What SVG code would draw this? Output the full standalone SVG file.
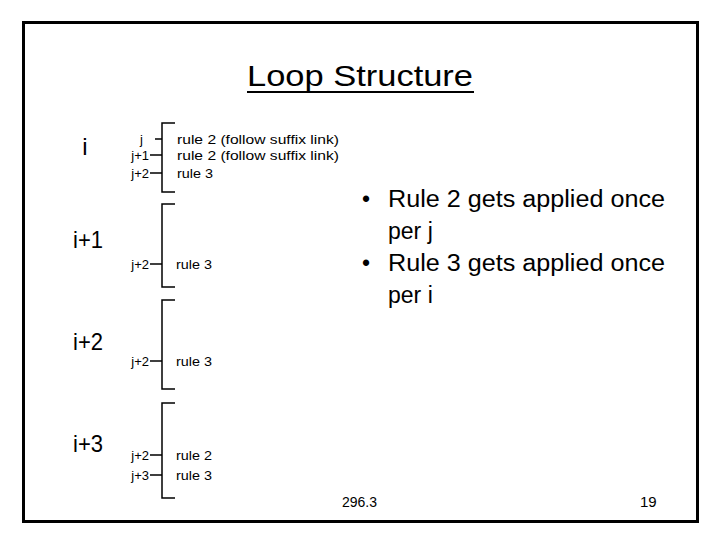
<svg xmlns="http://www.w3.org/2000/svg" width="720" height="540" viewBox="0 0 720 540">
<style>
.t{font-family:"Liberation Sans",Arial,sans-serif;fill:#000}
.s{font-size:13px}
.b{font-size:23px}
.l{font-size:24px}
.br{fill:none;stroke:#000;stroke-width:1.5}
</style>
<rect x="0" y="0" width="720" height="540" fill="#fff"/>
<rect x="23.5" y="22.5" width="674" height="499" fill="none" stroke="#000" stroke-width="3"/>
<g id="title">
<text class="t" x="247" y="86" font-size="29" textLength="226" lengthAdjust="spacingAndGlyphs">Loop Structure</text>
<line x1="247" y1="92" x2="474" y2="92" stroke="#000" stroke-width="2"/>
</g>
<g id="i-labels">
<text class="t l" x="85" y="155" text-anchor="middle">i</text>
<text class="t l" x="73" y="248" textLength="30" lengthAdjust="spacingAndGlyphs">i+1</text>
<text class="t l" x="73" y="350" textLength="30" lengthAdjust="spacingAndGlyphs">i+2</text>
<text class="t l" x="73" y="452" textLength="30" lengthAdjust="spacingAndGlyphs">i+3</text>
</g>
<g id="connectors">
<path class="br" d="M175,123 H162 V192 H175"/>
<path class="br" d="M155,139 H162 M150,155 H162 M150,173 H162"/>
<path class="br" d="M175,204 H162 V287 H175"/>
<path class="br" d="M150,264 H162"/>
<path class="br" d="M175,300 H162 V389 H175"/>
<path class="br" d="M150,361 H162"/>
<path class="br" d="M175,403 H162 V498 H175"/>
<path class="br" d="M150,455 H162 M150,475 H162"/>
</g>
<g id="group-i">
<text class="t s" x="143" y="144" text-anchor="end">j</text>
<text class="t s" x="149" y="160" text-anchor="end">j+1</text>
<text class="t s" x="149" y="178" text-anchor="end">j+2</text>
<text class="t s" x="177" y="144" textLength="162" lengthAdjust="spacingAndGlyphs">rule 2 (follow suffix link)</text>
<text class="t s" x="177" y="160" textLength="162" lengthAdjust="spacingAndGlyphs">rule 2 (follow suffix link)</text>
<text class="t s" x="177" y="178" textLength="36" lengthAdjust="spacingAndGlyphs">rule 3</text>
</g>
<g id="group-i1">
<text class="t s" x="149" y="269" text-anchor="end">j+2</text>
<text class="t s" x="176" y="269" textLength="36" lengthAdjust="spacingAndGlyphs">rule 3</text>
</g>
<g id="group-i2">
<text class="t s" x="149" y="366" text-anchor="end">j+2</text>
<text class="t s" x="176" y="366" textLength="36" lengthAdjust="spacingAndGlyphs">rule 3</text>
</g>
<g id="group-i3">
<text class="t s" x="149" y="460" text-anchor="end">j+2</text>
<text class="t s" x="149" y="480" text-anchor="end">j+3</text>
<text class="t s" x="176" y="460" textLength="36" lengthAdjust="spacingAndGlyphs">rule 2</text>
<text class="t s" x="176" y="480" textLength="36" lengthAdjust="spacingAndGlyphs">rule 3</text>
</g>
<g id="bullets">
<text class="t b" x="362" y="207">•</text>
<text class="t b" x="388" y="207" textLength="277" lengthAdjust="spacingAndGlyphs">Rule 2 gets applied once</text>
<text class="t b" x="388" y="239">per j</text>
<text class="t b" x="362" y="271">•</text>
<text class="t b" x="388" y="271" textLength="277" lengthAdjust="spacingAndGlyphs">Rule 3 gets applied once</text>
<text class="t b" x="388" y="303">per i</text>
</g>
<g id="footer">
<text class="t" x="342" y="507" font-size="14">296.3</text>
<text class="t" x="640" y="507" font-size="15">19</text>
</g>
</svg>
